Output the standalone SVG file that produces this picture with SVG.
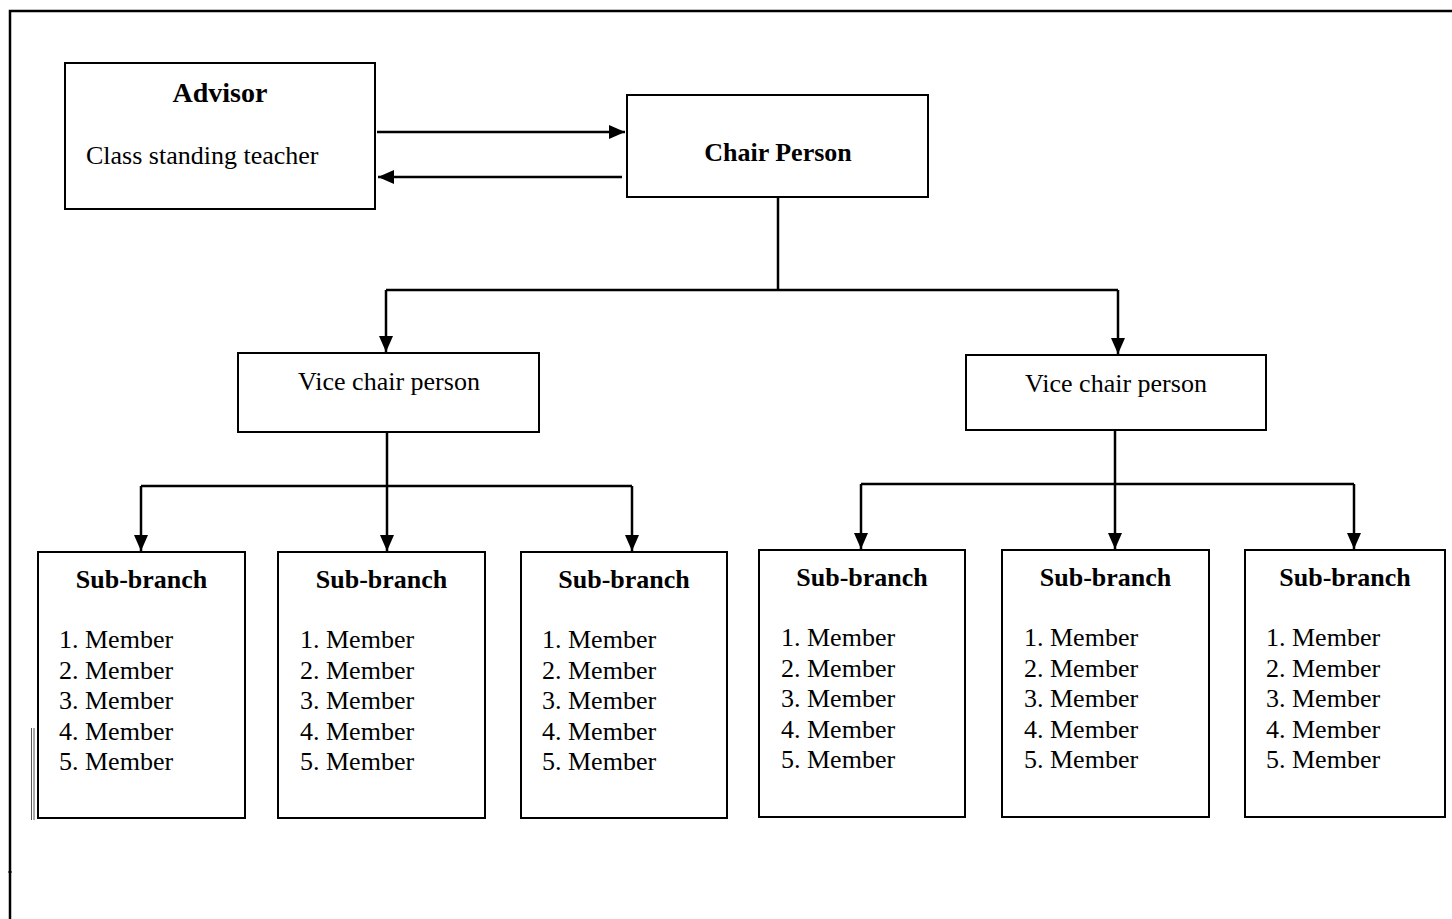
<svg xmlns="http://www.w3.org/2000/svg" width="1452" height="919" viewBox="0 0 1452 919">
<defs>
<marker id="ah" viewBox="0 0 16 14" refX="16" refY="7" markerWidth="16" markerHeight="14" markerUnits="userSpaceOnUse" orient="auto">
<path d="M0,0 L16,7 L0,14 Z" fill="#000"/>
</marker>
<style>
.box{fill:#fff;stroke:#000;stroke-width:2}
.ln{fill:none;stroke:#000;stroke-width:2.5}
.arr{fill:none;stroke:#000;stroke-width:2.5;marker-end:url(#ah)}
.t{font-family:"Liberation Serif","Times New Roman",serif;font-size:26px;fill:#000}
.b{font-weight:bold}
.c{text-anchor:middle}
</style>
</defs>
<rect width="1452" height="919" fill="#fff"/>
<g id="frame">
<path d="M10,919 L10,11 L1452,11" fill="none" stroke="#000" stroke-width="2.5"/>
<line x1="31.5" y1="728" x2="31.5" y2="820" stroke="#555" stroke-width="1"/>
<line x1="34" y1="728" x2="34" y2="820" stroke="#555" stroke-width="1"/>
<line x1="8" y1="872" x2="12" y2="872" stroke="#000" stroke-width="1"/>
</g>
<g id="connectors">
<line class="arr" x1="377" y1="132" x2="625" y2="132"/>
<line class="arr" x1="622" y1="177" x2="378" y2="177"/>
<path class="ln" d="M778,197 L778,290"/>
<path class="ln" d="M386,290 L1118,290"/>
<line class="arr" x1="386" y1="290" x2="386" y2="352"/>
<line class="arr" x1="1118" y1="290" x2="1118" y2="354"/>
<path class="ln" d="M387,432 L387,486"/>
<path class="ln" d="M141,486 L632,486"/>
<line class="arr" x1="141" y1="486" x2="141" y2="551"/>
<line class="arr" x1="387" y1="486" x2="387" y2="551"/>
<line class="arr" x1="632" y1="486" x2="632" y2="551"/>
<path class="ln" d="M1115,430 L1115,484"/>
<path class="ln" d="M861,484 L1354,484"/>
<line class="arr" x1="861" y1="484" x2="861" y2="549"/>
<line class="arr" x1="1115" y1="484" x2="1115" y2="549"/>
<line class="arr" x1="1354" y1="484" x2="1354" y2="549"/>
</g>
<g id="advisor">
<rect class="box" x="65" y="63" width="310" height="146"/>
<text class="t b c" x="220" y="102" style="font-size:28px">Advisor</text>
<text class="t" x="86" y="164">Class standing teacher</text>
</g>
<g id="chair">
<rect class="box" x="627" y="95" width="301" height="102"/>
<text class="t b c" x="778" y="161">Chair Person</text>
</g>
<g id="vice1">
<rect class="box" x="238" y="353" width="301" height="79"/>
<text class="t c" x="389" y="390">Vice chair person</text>
</g>
<g id="vice2">
<rect class="box" x="966" y="355" width="300" height="75"/>
<text class="t c" x="1116" y="392">Vice chair person</text>
</g>
<g id="sub1">
<rect class="box" x="38" y="552" width="207" height="266"/>
<text class="t b c" x="141.5" y="588">Sub-branch</text>
<text class="t" x="59" y="648">1. Member</text>
<text class="t" x="59" y="679">2. Member</text>
<text class="t" x="59" y="709">3. Member</text>
<text class="t" x="59" y="740">4. Member</text>
<text class="t" x="59" y="770">5. Member</text>
</g>
<g id="sub2">
<rect class="box" x="278" y="552" width="207" height="266"/>
<text class="t b c" x="381.5" y="588">Sub-branch</text>
<text class="t" x="300" y="648">1. Member</text>
<text class="t" x="300" y="679">2. Member</text>
<text class="t" x="300" y="709">3. Member</text>
<text class="t" x="300" y="740">4. Member</text>
<text class="t" x="300" y="770">5. Member</text>
</g>
<g id="sub3">
<rect class="box" x="521" y="552" width="206" height="266"/>
<text class="t b c" x="624" y="588">Sub-branch</text>
<text class="t" x="542" y="648">1. Member</text>
<text class="t" x="542" y="679">2. Member</text>
<text class="t" x="542" y="709">3. Member</text>
<text class="t" x="542" y="740">4. Member</text>
<text class="t" x="542" y="770">5. Member</text>
</g>
<g id="sub4">
<rect class="box" x="759" y="550" width="206" height="267"/>
<text class="t b c" x="862" y="586">Sub-branch</text>
<text class="t" x="781" y="646">1. Member</text>
<text class="t" x="781" y="677">2. Member</text>
<text class="t" x="781" y="707">3. Member</text>
<text class="t" x="781" y="738">4. Member</text>
<text class="t" x="781" y="768">5. Member</text>
</g>
<g id="sub5">
<rect class="box" x="1002" y="550" width="207" height="267"/>
<text class="t b c" x="1105.5" y="586">Sub-branch</text>
<text class="t" x="1024" y="646">1. Member</text>
<text class="t" x="1024" y="677">2. Member</text>
<text class="t" x="1024" y="707">3. Member</text>
<text class="t" x="1024" y="738">4. Member</text>
<text class="t" x="1024" y="768">5. Member</text>
</g>
<g id="sub6">
<rect class="box" x="1245" y="550" width="200" height="267"/>
<text class="t b c" x="1345" y="586">Sub-branch</text>
<text class="t" x="1266" y="646">1. Member</text>
<text class="t" x="1266" y="677">2. Member</text>
<text class="t" x="1266" y="707">3. Member</text>
<text class="t" x="1266" y="738">4. Member</text>
<text class="t" x="1266" y="768">5. Member</text>
</g>
</svg>
